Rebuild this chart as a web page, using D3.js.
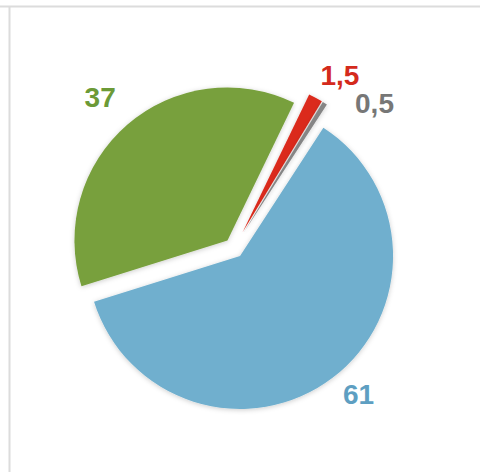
<!DOCTYPE html>
<html>
<head>
<meta charset="utf-8">
<script src="https://cdn.jsdelivr.net/npm/d3@7/dist/d3.min.js"></script>
<style>
  html,body{margin:0;padding:0;background:#fff;}
  svg{display:block;}
</style>
</head>
<body>
<div id="chart"></div>
<script>
var svgW=480,svgH=472;
var cx=234,cy=248,radius=153;
var labelradius=197,labelraise=6;
var labelnudge=[-2,-2,4,0]; // degrees, fine tuning of label angle
var startdeg=33;

// data
var labels=["61","37","1,5","0,5"];
var values=[61,37,1.5,0.5];
var slicecolor=["#6fafce","#78a03d","#db2a1b","#858585"];
var labelcolor=["#5e9fc2","#6c9a37","#d42a1c","#777777"];
var explode=[10,10,18,18];

var svg=d3.select("#chart").append("svg")
    .attr("width",svgW)
    .attr("height",svgH);

// frame lines top / left
svg.append("line").attr("x1",0).attr("x2",svgW).attr("y1",6.5).attr("y2",6.5)
    .attr("stroke","#dcdcdc").attr("stroke-width",2);
svg.append("line").attr("x1",9.5).attr("x2",9.5).attr("y1",6).attr("y2",svgH)
    .attr("stroke","#dcdcdc").attr("stroke-width",2);

var defs=svg.append("defs");
var f=defs.append("filter").attr("id","shadow")
    .attr("x","-20%").attr("y","-20%").attr("width","140%").attr("height","140%");
f.append("feDropShadow").attr("dx",0).attr("dy",1).attr("stdDeviation",2.5)
    .attr("flood-color","#000").attr("flood-opacity",0.2);

var start=startdeg*Math.PI/180;
var pie=d3.pie().sort(null).value(function(d){return d;})
    .startAngle(start).endAngle(start+2*Math.PI);
var arcs=pie(values);

var arc=d3.arc().innerRadius(0).outerRadius(radius);

var g=svg.append("g").attr("transform","translate("+cx+","+cy+")");

function mid(d){return (d.startAngle+d.endAngle)/2;}

g.selectAll("path.slice")
    .data(arcs)
    .enter()
    .append("path")
    .attr("class","slice")
    .attr("d",arc)
    .attr("fill",function(d,i){return slicecolor[i];})
    .attr("filter","url(#shadow)")
    .attr("transform",function(d,i){
        var a=mid(d);
        return "translate("+(Math.sin(a)*explode[i])+","+(-Math.cos(a)*explode[i])+")";
    });

// label angles, push small slices apart so texts don't collide
var labelangle=arcs.map(function(d,i){return mid(d)+labelnudge[i]*Math.PI/180;});
for(var i=1;i<labelangle.length;i++){
    var minsep=13*Math.PI/180;
    if(labelangle[i]-labelangle[i-1]<minsep && values[i]<5) labelangle[i]=labelangle[i-1]+minsep;
}

g.selectAll("text.lbl")
    .data(arcs)
    .enter()
    .append("text")
    .attr("class","lbl")
    .attr("x",function(d,i){return Math.sin(labelangle[i])*labelradius;})
    .attr("y",function(d,i){return -Math.cos(labelangle[i])*labelradius-labelraise;})
    .attr("text-anchor","middle")
    .attr("dominant-baseline","central")
    .style("font-family","'Liberation Sans',Arial,sans-serif")
    .style("font-weight","bold")
    .style("font-size","28px")
    .attr("fill",function(d,i){return labelcolor[i];})
    .text(function(d,i){return labels[i];});
</script>
</body>
</html>
